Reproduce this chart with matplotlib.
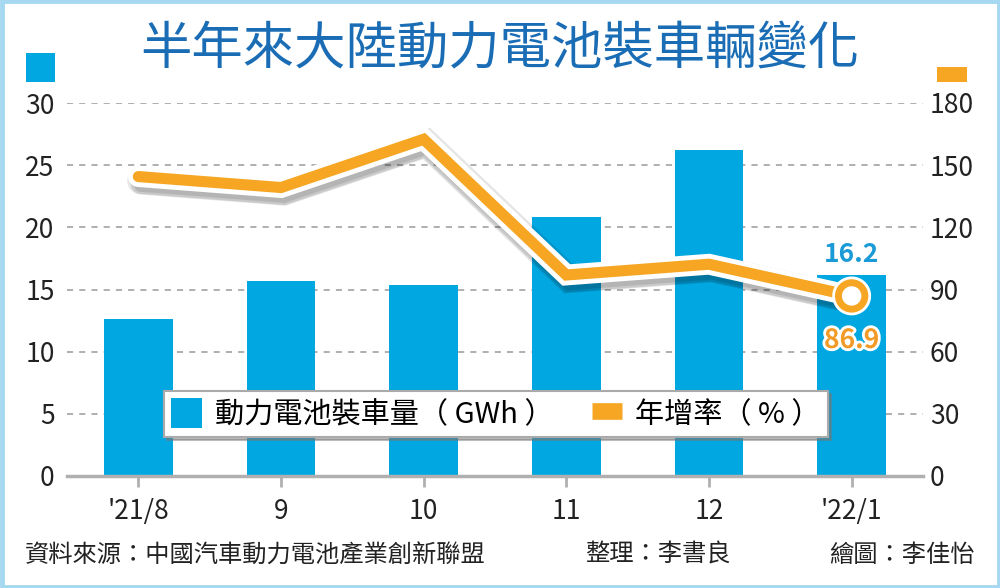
import matplotlib
matplotlib.use("Agg")
import matplotlib.pyplot as plt
import matplotlib.patheffects as pe
from matplotlib.patches import Rectangle, Patch
from matplotlib.lines import Line2D

plt.rcParams['font.family'] = ['Noto Sans CJK TC', 'DejaVu Sans']

categories = ["'21/8", "9", "10", "11", "12", "'22/1"]
capacity_gwh = [12.6, 15.7, 15.4, 20.8, 26.2, 16.2]
yoy_growth = [144.5, 139.2, 162.5, 97.0, 102.2, 86.9]
left_ticks = [0, 5, 10, 15, 20, 25, 30]
right_ticks = [0, 30, 60, 90, 120, 150, 180]

BLUE = '#00a7e1'
ORANGE = '#f6a623'
TITLE_BLUE = '#1a6db5'
NARROW = ['Liberation Sans Narrow', 'Noto Sans CJK TC', 'DejaVu Sans']

fig = plt.figure(figsize=(10, 5.88), dpi=100)
fig.patch.set_facecolor('white')
fig.patches.append(Rectangle((0.0015, 0.0025), 0.997, 0.995, transform=fig.transFigure,
                             fill=False, edgecolor='#a6d9f1', linewidth=3.5))

ax = fig.add_axes([0.067, 1 - 476 / 588, 0.856, (476 - 103) / 588])
x = list(range(len(categories)))
ax.bar(x, capacity_gwh, width=0.48, color=BLUE, zorder=2)
ax.set_xlim(-0.5, 5.5)
ax.set_ylim(0, 30)
ax.set_yticks(left_ticks)
ax.set_xticks(x)
ax.set_xticklabels(categories)
ax.yaxis.grid(True, linestyle=(0, (4, 4)), color='#9a9a9a', linewidth=1.1, zorder=0)
ax.set_axisbelow(True)
for s in ['top', 'left', 'right']:
    ax.spines[s].set_visible(False)
ax.spines['bottom'].set_color('#b0b0b0')
ax.spines['bottom'].set_linewidth(2.5)
ax.spines['bottom'].set_zorder(3)
ax.tick_params(axis='y', length=0, pad=9, labelcolor='#222222')
ax.tick_params(axis='x', length=8, width=2, color='#b0b0b0', direction='out',
               pad=8, labelcolor='#222222')
for lbl in ax.get_xticklabels() + ax.get_yticklabels():
    lbl.set_fontfamily(NARROW)
    lbl.set_fontsize(19)

ax2 = ax.twinx()
ax2.set_ylim(0, 180)
ax2.set_yticks(right_ticks)
for s in ['top', 'left', 'right', 'bottom']:
    ax2.spines[s].set_visible(False)
ax2.tick_params(axis='y', length=0, pad=5, labelcolor='#222222')
for lbl in ax2.get_yticklabels():
    lbl.set_fontfamily(NARROW)
    lbl.set_fontsize(19)

ax2.plot(x, yoy_growth, color=ORANGE, linewidth=8, solid_joinstyle='miter',
         solid_capstyle='round', zorder=4,
         path_effects=[pe.SimpleLineShadow(offset=(2, -3), shadow_color='#000000', alpha=0.10, linewidth=20),
                       pe.SimpleLineShadow(offset=(2, -5), shadow_color='#000000', alpha=0.12, linewidth=15),
                       pe.SimpleLineShadow(offset=(2, -6), shadow_color='#000000', alpha=0.10, linewidth=10),
                       pe.Stroke(linewidth=15, foreground='white'), pe.Normal()])
ax2.plot([x[-1]], [yoy_growth[-1]], marker='o', markersize=19, markerfacecolor='white',
         markeredgecolor=ORANGE, markeredgewidth=5, zorder=5,
         path_effects=[pe.Stroke(linewidth=9, foreground='white'), pe.Normal()])

ax.text(x[-1], capacity_gwh[-1] + 0.55, '16.2', ha='center', va='bottom', color='#1a9ad6',
        fontsize=19, fontweight='bold', zorder=6)
ax2.text(x[-1], yoy_growth[-1] - 15, '86.9', ha='center', va='top', color='#f29a26',
         fontsize=19, fontweight='bold', zorder=6,
         path_effects=[pe.withStroke(linewidth=4, foreground='white')])

handles = [Patch(facecolor=BLUE, edgecolor='none'),
           Line2D([0], [0], color=ORANGE, linewidth=12, solid_capstyle='butt')]
leg = ax.legend(handles, ['動力電池裝車量（ GWh ）', '年增率（ % ）'], loc='center',
                bbox_to_anchor=((496 - 67) / 856, (478 - 416) / 373), ncol=2, frameon=True,
                fancybox=False, shadow={'color': '#777777', 'alpha': 0.5}, edgecolor='#aaaaaa',
                framealpha=1, fontsize=21, handlelength=1.05, handleheight=1.2,
                columnspacing=1.3, handletextpad=0.45, borderpad=0.25, borderaxespad=0)
leg.get_frame().set_linewidth(1.5)
leg.set_zorder(7)

fig.text(0.5, 1 - 50 / 588, '半年來大陸動力電池裝車輛變化', ha='center', va='center',
         color=TITLE_BLUE, fontsize=37, fontweight='medium')
fig.patches.append(Rectangle((26 / 1000, 1 - 82 / 588), 29 / 1000, 29 / 588,
                             transform=fig.transFigure, facecolor=BLUE, edgecolor='none'))
fig.patches.append(Rectangle((937 / 1000, 1 - 82 / 588), 30 / 1000, 15 / 588,
                             transform=fig.transFigure, facecolor=ORANGE, edgecolor='none'))

fig.text(25 / 1000, 1 - 555 / 588, '資料來源：中國汽車動力電池產業創新聯盟', ha='left', va='center',
         fontsize=17.5, color='#222222')
fig.text(585 / 1000, 1 - 555 / 588, '整理：李書良', ha='left', va='center',
         fontsize=17.5, color='#222222')
fig.text(975 / 1000, 1 - 555 / 588, '繪圖：李佳怡', ha='right', va='center',
         fontsize=17.5, color='#222222')

fig.savefig('out.png', dpi=100)
